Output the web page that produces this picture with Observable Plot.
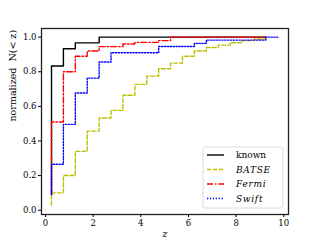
<!DOCTYPE html>
<html><head><meta charset="utf-8">
<script src="https://cdn.jsdelivr.net/npm/d3@7"></script>
<script src="https://cdn.jsdelivr.net/npm/@observablehq/plot@0.6"></script>
<style>
html,body{margin:0;padding:0;background:#fff;}
#chart{width:320px;height:240px;position:relative;}
</style></head>
<body><div id="chart"></div>
<script>
const seriesNames = ["known", "BATSE", "Fermi", "Swift"];
const knownX = [0.25, 0.25, 0.75, 1.25, 2.25, 9.25];
const knownY = [0.09, 0.833, 0.933, 0.967, 1.0, 1.0];
const batseX = [0.25, 0.25, 0.75, 1.25, 1.75, 2.25, 2.75, 3.25, 3.75, 4.25, 4.75, 5.25, 5.75, 6.25, 6.75, 7.25, 7.75, 8.25, 8.75, 9.25];
const batseY = [0.03, 0.10, 0.20, 0.34, 0.457, 0.533, 0.577, 0.664, 0.727, 0.775, 0.817, 0.85, 0.89, 0.92, 0.94, 0.954, 0.968, 0.98, 0.989, 1.0];
const fermiX = [0.25, 0.25, 0.75, 1.25, 1.75, 2.25, 3.25, 3.75, 4.75, 5.25, 9.25];
const fermiY = [0.09, 0.51, 0.80, 0.89, 0.92, 0.945, 0.96, 0.97, 0.98, 1.0, 1.0];
const swiftX = [0.25, 0.25, 0.75, 1.25, 1.75, 2.25, 2.75, 4.75, 6.25, 6.75, 9.25, 9.75];
const swiftY = [0.09, 0.265, 0.496, 0.677, 0.763, 0.856, 0.91, 0.946, 0.964, 0.983, 1.0, 1.0];
const xTicks = [0, 2, 4, 6, 8, 10];
const yTicks = [0.0, 0.2, 0.4, 0.6, 0.8, 1.0];

const colors = {known: "#000000", BATSE: "#bfbf00", Fermi: "#ff0000", Swift: "#0000ff"};
const dashes = {known: null, BATSE: "4,2", Fermi: "6,2,1.5,2", Swift: "1.3,1.6"};
const toRows = (xs, ys) => xs.map((x, i) => ({x, y: ys[i]}));
const data = {
  known: toRows(knownX, knownY),
  BATSE: toRows(batseX, batseY),
  Fermi: toRows(fermiX, fermiY),
  Swift: toRows(swiftX, swiftY)
};
const font = "'DejaVu Serif', 'Liberation Serif', serif";

const plot = Plot.plot({
  width: 320, height: 240,
  marginLeft: 41, marginRight: 32, marginTop: 28, marginBottom: 26,
  style: {fontFamily: font, fontSize: "8.5px", background: "#fff", color: "#000"},
  x: {domain: [-0.17, 10.2]},
  y: {domain: [-0.025, 1.05]},
  marks: [
    ...seriesNames.map(s => Plot.line(data[s], {
      x: "x", y: "y", curve: "step-after",
      stroke: colors[s], strokeWidth: 1.4,
      strokeDasharray: dashes[s] || undefined
    })),
    Plot.frame({stroke: "#222", strokeWidth: 1.3}),
    Plot.axisX({ticks: xTicks, tickSize: 3, tickPadding: 2, tickFormat: d => String(d), label: null, fontSize: 8.5}),
    Plot.axisY({ticks: yTicks, tickSize: 3, tickPadding: 2, tickFormat: d3.format(".1f"), label: null, fontSize: 8.5}),
    Plot.text(["z"], {frameAnchor: "bottom", dy: 22, fontStyle: "italic", fontSize: 10, text: d => d}),
    Plot.text(["normalized  N(< z)"], {frameAnchor: "left", dx: -29, rotate: -90, fontSize: 9.5, text: d => d})
  ]
});
document.getElementById("chart").appendChild(plot);

// legend inside the axes (bottom right)
const svg = d3.select(plot);
const lg = svg.append("g").attr("transform", "translate(203,147)").attr("text-anchor", "start");
lg.append("rect").attr("width", 80).attr("height", 61).attr("rx", 2.5)
  .attr("fill", "#fff").attr("fill-opacity", 0.85).attr("stroke", "#d0d0d0").attr("stroke-width", 0.8);
seriesNames.forEach((s, i) => {
  const yy = 8 + i * 14.5;
  lg.append("line").attr("x1", 4).attr("x2", 21).attr("y1", yy).attr("y2", yy)
    .attr("stroke", colors[s]).attr("stroke-width", 1.4)
    .attr("stroke-dasharray", dashes[s] || null);
  lg.append("text").attr("x", 33).attr("y", yy).attr("dy", "0.35em")
    .attr("text-anchor", "start")
    .attr("font-family", font).attr("font-size", 9)
    .attr("font-style", s === "known" ? "normal" : "italic")
    .attr("letter-spacing", s === "known" ? null : "0.7px")
    .text(s);
});
</script></body></html>
